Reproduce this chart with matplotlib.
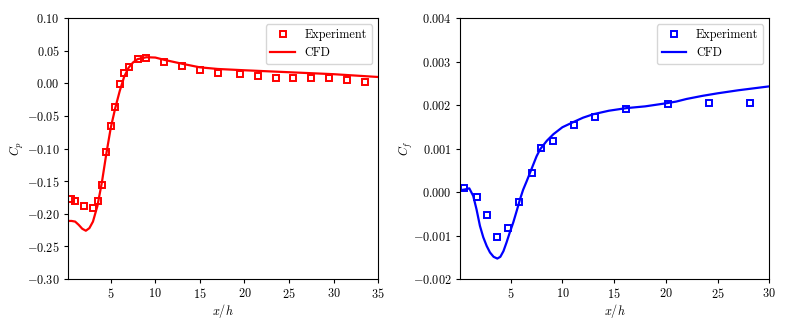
import matplotlib
matplotlib.use("Agg")
import matplotlib.pyplot as plt
from matplotlib.ticker import FuncFormatter

# pressure coefficient, experiment
cp_exp_x = [0.5, 1.0, 2.05, 3.05, 3.55, 4.05, 4.5, 5.0, 5.5, 6.0, 6.5, 7.0, 8.0, 9.0,
            11.0, 13.0, 15.0, 17.0, 19.5, 21.5, 23.5, 25.5, 27.5, 29.5, 31.5, 33.5]
cp_exp_y = [-0.177, -0.180, -0.188, -0.191, -0.180, -0.156, -0.106, -0.066, -0.036,
            -0.0015, 0.016, 0.0245, 0.037, 0.039, 0.033, 0.0266, 0.020, 0.0163,
            0.0143, 0.0107, 0.0087, 0.0087, 0.0077, 0.0077, 0.0056, 0.002]
# pressure coefficient, CFD
cp_cfd_x = [0.2, 0.6, 1.0, 1.4, 1.8, 2.2, 2.6, 3.0, 3.5, 4.0, 4.5, 5.0, 5.5, 6.0, 6.5,
            7.0, 7.5, 8.0, 9.0, 10.0, 11.0, 13.0, 15.0, 17.0, 20.0, 25.0, 30.0, 35.0]
cp_cfd_y = [-0.211, -0.211, -0.212, -0.217, -0.223, -0.226, -0.222, -0.212, -0.188,
            -0.152, -0.108, -0.068, -0.038, -0.012, 0.010, 0.024, 0.032, 0.037,
            0.040, 0.0395, 0.036, 0.030, 0.0245, 0.022, 0.020, 0.017, 0.014, 0.0097]

# skin friction coefficient, experiment
cf_exp_x = [0.45, 1.77, 2.74, 3.71, 4.74, 5.84, 7.06, 7.9, 9.13, 11.16, 13.16, 16.19,
            20.19, 24.13, 28.13]
cf_exp_y = [0.00009, -0.000115, -0.00052, -0.00103, -0.00082, -0.00022, 0.00044,
            0.00101, 0.00117, 0.00153, 0.00172, 0.00191, 0.00202, 0.00204, 0.00205]
# skin friction coefficient, CFD
cf_cfd_x = [0.1, 0.6, 1.0, 1.38, 1.7, 2.03, 2.35, 2.68, 3.0, 3.35, 3.71, 4.0, 4.3, 4.6,
            4.9, 5.25, 5.6, 5.9, 6.2, 6.55, 6.9, 7.2, 7.5, 7.84, 8.5, 9.13, 10.0, 11.07,
            12.0, 13.0, 14.5, 16.2, 18.0, 20.0, 21.0, 22.0, 23.5, 25.0, 27.0, 30.0]
cf_cfd_y = [0.00004, 0.00006, 0.000085, -0.00009, -0.0004, -0.00078, -0.00104,
            -0.00124, -0.00139, -0.00149, -0.00153, -0.00149, -0.00136, -0.00116,
            -0.00094, -0.0007, -0.00042, -0.00017, 0.00005, 0.00025, 0.00046, 0.00064,
            0.00082, 0.00098, 0.00118, 0.00133, 0.00149, 0.00161, 0.00171, 0.00179,
            0.00187, 0.00193, 0.00197, 0.00204, 0.00208, 0.00214, 0.00221, 0.00227,
            0.00234, 0.00243]

plt.rcParams['font.family'] = 'serif'
plt.rcParams['font.serif'] = ['cmr10']
plt.rcParams['mathtext.fontset'] = 'cm'
plt.rcParams['axes.formatter.use_mathtext'] = True
plt.rcParams['font.size'] = 8.8
plt.rcParams['xtick.major.size'] = 3
plt.rcParams['ytick.major.size'] = 3
plt.rcParams['xtick.major.pad'] = 3
plt.rcParams['ytick.major.pad'] = 3

fig = plt.figure(figsize=(7.89, 3.29), dpi=100)
ax1 = fig.add_axes([0.0862, 0.152, 0.393, 0.793])
ax2 = fig.add_axes([0.583, 0.152, 0.392, 0.793])

ax1.plot(cp_exp_x, cp_exp_y, 's', color='red', mfc='none', mew=1.4, ms=5, label='Experiment')
ax1.plot(cp_cfd_x, cp_cfd_y, '-', color='red', lw=1.6, label='CFD')
ax1.set_xlim(0.2, 35)
ax1.set_ylim(-0.30, 0.10)
ax1.set_xticks([5, 10, 15, 20, 25, 30, 35])
ax1.set_yticks([-0.30, -0.25, -0.20, -0.15, -0.10, -0.05, 0.0, 0.05, 0.10])
ax1.yaxis.set_major_formatter(FuncFormatter(lambda v, p: r'$%.2f$' % v))
ax1.xaxis.set_major_formatter(FuncFormatter(lambda v, p: r'$%d$' % v))
ax1.set_xlabel(r'$x/h$')
ax1.set_ylabel(r'$C_p$')
ax1.xaxis.set_label_coords(0.5, -0.088)
ax1.yaxis.set_label_coords(-0.14, 0.5)
ax1.legend(loc='upper right', fontsize=8.8)

ax2.plot(cf_exp_x, cf_exp_y, 's', color='blue', mfc='none', mew=1.4, ms=5, label='Experiment')
ax2.plot(cf_cfd_x, cf_cfd_y, '-', color='blue', lw=1.6, label='CFD')
ax2.set_xlim(0.1, 30)
ax2.set_ylim(-0.002, 0.004)
ax2.set_xticks([5, 10, 15, 20, 25, 30])
ax2.set_yticks([-0.002, -0.001, 0.0, 0.001, 0.002, 0.003, 0.004])
ax2.yaxis.set_major_formatter(FuncFormatter(lambda v, p: r'$%.3f$' % v))
ax2.xaxis.set_major_formatter(FuncFormatter(lambda v, p: r'$%d$' % v))
ax2.set_xlabel(r'$x/h$')
ax2.set_ylabel(r'$C_f$')
ax2.xaxis.set_label_coords(0.5, -0.088)
ax2.yaxis.set_label_coords(-0.15, 0.5)
ax2.legend(loc='upper right', fontsize=8.8)

fig.savefig('out.png', dpi=100)
